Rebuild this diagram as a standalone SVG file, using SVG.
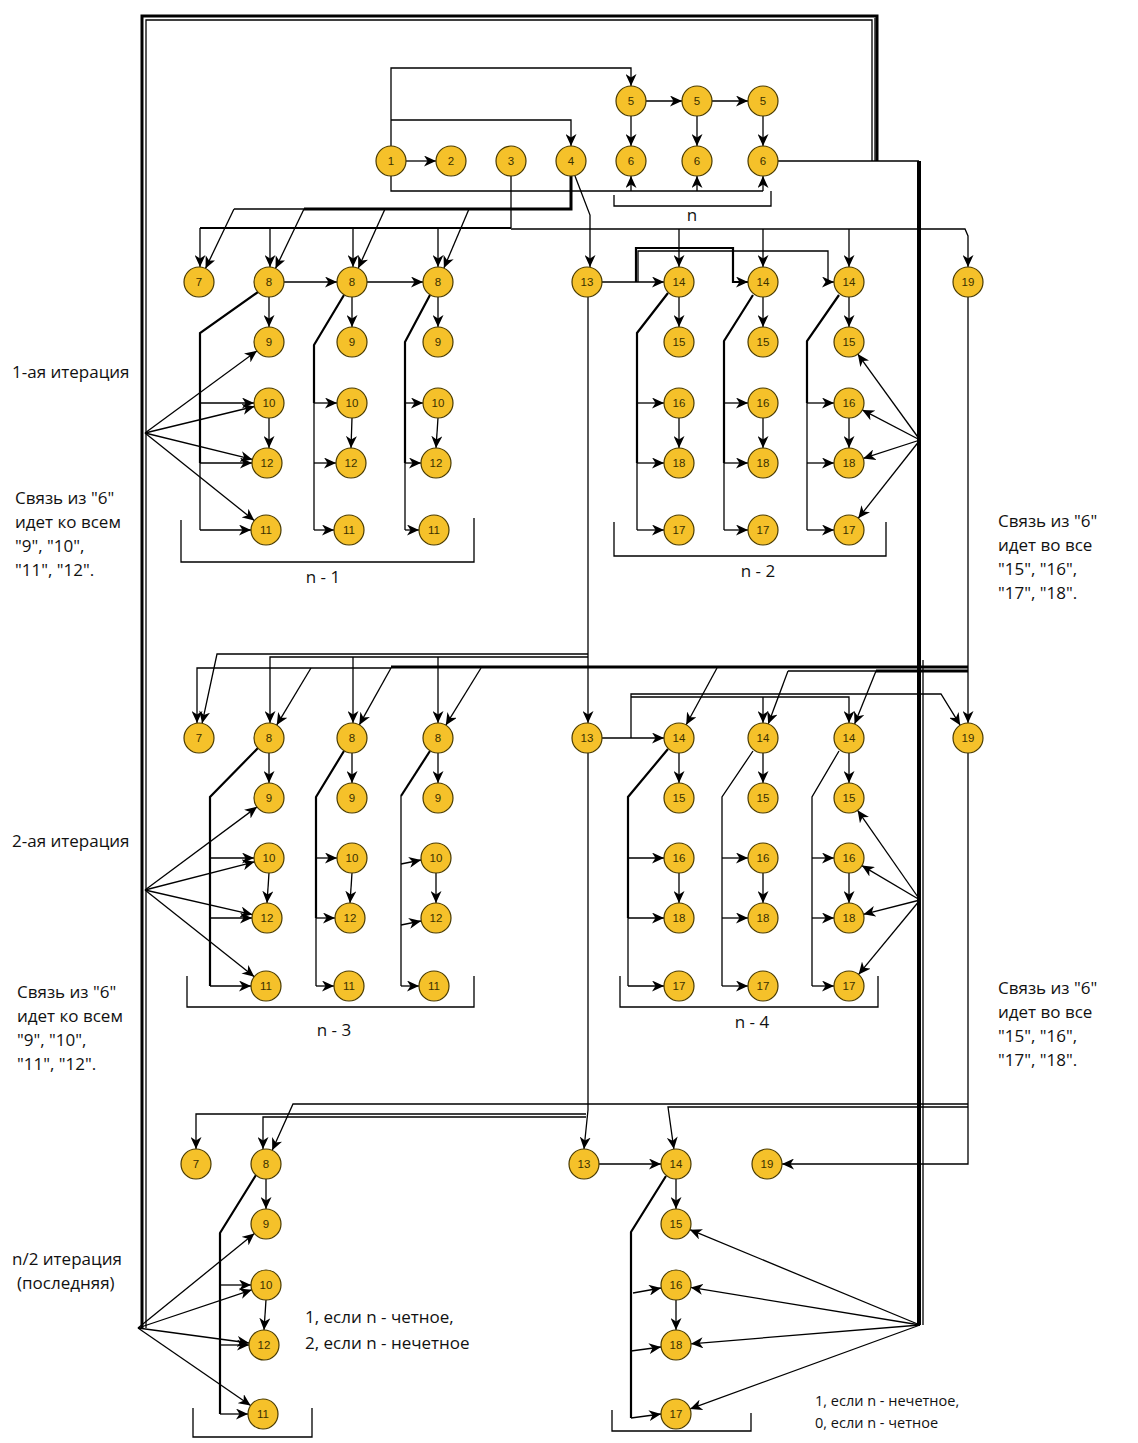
<svg xmlns="http://www.w3.org/2000/svg" width="1138" height="1443" viewBox="0 0 1138 1443">
<style>
.n circle{fill:#F5C12A;stroke:#4a3b00;stroke-width:1.2}
.n text{font-family:"Liberation Sans",Arial,sans-serif;font-size:11.5px;fill:#3a3000;text-anchor:middle;dominant-baseline:central}
.c{fill:none;stroke:#000;stroke-width:1.3}
.k{fill:none;stroke:#000;stroke-width:3}
.m{fill:none;stroke:#000;stroke-width:2.2}
.a{marker-end:url(#ar)}
.lb{font-family:"Open Sans","Noto Sans",sans-serif;font-size:17px;fill:#111}
.sm{font-family:"Open Sans","Noto Sans",sans-serif;font-size:14.5px;fill:#111}
</style>
<defs>
<marker id="ar" markerUnits="userSpaceOnUse" markerWidth="13" markerHeight="11" refX="12" refY="5.5" orient="auto">
<path d="M0,0 L12,5.5 L0,11 L3.5,5.5 z" fill="#000"/>
</marker>
</defs>
<rect width="1138" height="1443" fill="#fff"/>

<g id="frame">
<path class="k" d="M142,1328 V16 H877 V161"/>
<path class="c" d="M146,1328 V20 H872 V161"/>
<path class="c" d="M875,18 V161"/>
<path class="c" d="M778,161 H919"/>
<path d="M919,161 V1325" fill="none" stroke="#000" stroke-width="4"/>
<path class="c" d="M923,660 V1325"/>
</g>

<g id="connectors">
<path class="c a" d="M406,161 H436"/>
<path class="c a" d="M391,146 V68 H631 V86"/>
<path class="c a" d="M391,120 H571 V146"/>
<path class="c" d="M391,176 V191 H763"/>
<path class="c a" d="M631,191 V176"/>
<path class="c a" d="M697,191 V176"/>
<path class="c a" d="M763,191 V176"/>
<path class="c" d="M614,195 V206 H771 V191"/>
<path class="c a" d="M646,101 H682"/>
<path class="c a" d="M712,101 H748"/>
<path class="c a" d="M631,116 V146"/>
<path class="c a" d="M697,116 V146"/>
<path class="c a" d="M763,116 V146"/>
<path class="c" d="M511,176 V228"/>
<path class="m" d="M200,228 H511"/>
<path class="c a" d="M511,229 H965 L968,236 V267"/>
<path class="c a" d="M200,228 V267"/>
<path class="c a" d="M270,228 V267"/>
<path class="c a" d="M353,228 V267"/>
<path class="c a" d="M438,228 V267"/>
<path class="c a" d="M679,229 V267"/>
<path class="c a" d="M763,229 V267"/>
<path class="c a" d="M849,229 V267"/>
<path class="k" d="M571,176 V209 H304"/>
<path class="c" d="M304,209 H234"/>
<path class="c a" d="M234,209 L205.5,268.5"/>
<path class="c a" d="M304,209 L275.5,268.5"/>
<path class="c a" d="M385,209 L358.2,268.3"/>
<path class="c a" d="M469,209 L443.9,268.1"/>
<path class="c a" d="M575,176 L590,215 V267"/>
<path class="c a" d="M602,282 H664"/>
<path class="m a" d="M636,282 V248 H733 V282 H748"/>
<path class="c a" d="M638,282 V251 H828 V282 H834"/>
<path class="c a" d="M284,282 H337"/>
<path class="c a" d="M367,282 H423"/>
<path class="c a" d="M269,297 V327"/>
<path class="c a" d="M352,297 V327"/>
<path class="c a" d="M438,297 V327"/>
<path class="c a" d="M269,418 V448"/>
<path class="c a" d="M352,418 L351,448"/>
<path class="c a" d="M438,418 L436,448"/>
<path class="c a" d="M679,297 V327"/>
<path class="c a" d="M763,297 V327"/>
<path class="c a" d="M849,297 V327"/>
<path class="c a" d="M679,418 V448"/>
<path class="c a" d="M763,418 V448"/>
<path class="c a" d="M849,418 V448"/>
<path class="m" d="M258,292 L200,333 V463"/>
<path class="c" d="M200,463 V530"/>
<path class="c a" d="M200,403 H254"/>
<path class="c a" d="M200,463 H252"/>
<path class="c a" d="M200,530 H251"/>
<path class="m" d="M344,295 L314,345 V403"/>
<path class="c" d="M314,403 V530"/>
<path class="c a" d="M314,403 H337"/>
<path class="c a" d="M314,463 H336"/>
<path class="c a" d="M314,530 H334"/>
<path class="m" d="M430,295 L405,342 V463"/>
<path class="c" d="M405,463 V530"/>
<path class="c a" d="M405,403 H423"/>
<path class="c a" d="M405,463 H421"/>
<path class="c a" d="M405,530 H419"/>
<path class="m" d="M668,293 L637,333 V463"/>
<path class="c" d="M637,463 V530"/>
<path class="c a" d="M637,403 H664"/>
<path class="c a" d="M637,463 H664"/>
<path class="c a" d="M637,530 H664"/>
<path class="m" d="M753,295 L724,341 V463"/>
<path class="c" d="M724,463 V530"/>
<path class="c a" d="M724,403 H748"/>
<path class="c a" d="M724,463 H748"/>
<path class="c a" d="M724,530 H748"/>
<path class="m" d="M839,295 L807,341 V403"/>
<path class="c" d="M807,403 V530"/>
<path class="c a" d="M807,403 H834"/>
<path class="c a" d="M807,463 H834"/>
<path class="c a" d="M807,530 H834"/>
<path class="c a" d="M145,433 L256.9,350.9"/>
<path class="c a" d="M145,433 L254.4,406.5"/>
<path class="c a" d="M145,433 L252.4,459.4"/>
<path class="c a" d="M145,433 L254.3,520.6"/>
<path class="c a" d="M920,440 L857.8,354.1"/>
<path class="c a" d="M920,440 L862.3,409.9"/>
<path class="c a" d="M920,440 L863.3,458.4"/>
<path class="c a" d="M920,440 L858.3,518.2"/>
<path class="c a" d="M588,297 V723"/>
<path class="c a" d="M588,654 H217 L202.1,723.3"/>
<path class="c a" d="M588,657 H270 V723"/>
<path class="c a" d="M353,657 V723"/>
<path class="c a" d="M438,657 V723"/>
<path class="c a" d="M968,297 V723"/>
<path class="k" d="M968,667 H391"/>
<path class="c a" d="M391,668 H197 V723"/>
<path class="c a" d="M311,668 L276.7,725.1"/>
<path class="c a" d="M391,668 L359.3,724.9"/>
<path class="c a" d="M481,668 L445.8,725.2"/>
<path class="c a" d="M717,668 L686.2,724.8"/>
<path class="k" d="M968,671 H876"/>
<path class="c" d="M876,671 H788"/>
<path class="c a" d="M788,671 L768.2,724"/>
<path class="c a" d="M876,671 L854.6,724.1"/>
<path class="c a" d="M602,738 H664"/>
<path class="c a" d="M631,738 V694 H941 L960.2,725.2"/>
<path class="c a" d="M631,697 H849 V723"/>
<path class="c a" d="M763,697 V723"/>
<path class="c a" d="M269,753 V783"/>
<path class="c a" d="M352,753 V783"/>
<path class="c a" d="M438,753 V783"/>
<path class="c a" d="M269,873 L267,903"/>
<path class="c a" d="M352,873 L350,903"/>
<path class="c a" d="M436,873 V903"/>
<path class="m" d="M258,748 L210,797 V986"/>
<path class="c a" d="M210,858 H254"/>
<path class="c a" d="M210,918 H252"/>
<path class="c a" d="M210,986 H251"/>
<path class="m" d="M344,751 L316,797 V918"/>
<path class="c" d="M316,918 V986"/>
<path class="c a" d="M316,858 H337"/>
<path class="c a" d="M316,918 H335"/>
<path class="c a" d="M316,986 H334"/>
<path class="m" d="M430,751 L401,796"/>
<path class="c" d="M401,796 V986"/>
<path class="c a" d="M401,864 L421,860"/>
<path class="c a" d="M401,925 L421,921"/>
<path class="c a" d="M401,986 H419"/>
<path class="c a" d="M145,890 L257,806.9"/>
<path class="c a" d="M145,890 L254.5,861.8"/>
<path class="c a" d="M145,890 L252.4,914.6"/>
<path class="c a" d="M145,890 L254.3,976.7"/>
<path class="c a" d="M679,753 V783"/>
<path class="c a" d="M763,753 V783"/>
<path class="c a" d="M849,753 V783"/>
<path class="c a" d="M679,873 V903"/>
<path class="c a" d="M763,873 V903"/>
<path class="c a" d="M849,873 V903"/>
<path class="m" d="M668,749 L628,797 V918"/>
<path class="c" d="M628,918 V986"/>
<path class="c a" d="M628,858 H664"/>
<path class="c a" d="M628,918 H664"/>
<path class="c a" d="M628,986 H664"/>
<path class="c" d="M753,751 L722,797 V986"/>
<path class="c a" d="M722,858 H748"/>
<path class="c a" d="M722,918 H748"/>
<path class="c a" d="M722,986 H748"/>
<path class="c" d="M839,751 L812,797 V986"/>
<path class="c a" d="M812,858 H834"/>
<path class="c a" d="M812,918 H834"/>
<path class="c a" d="M812,986 H834"/>
<path class="c a" d="M920,900 L857.6,810.3"/>
<path class="c a" d="M920,900 L861.9,865.6"/>
<path class="c a" d="M920,900 L863.5,914.3"/>
<path class="c a" d="M920,900 L858.6,974.4"/>
<path class="c a" d="M588,753 V1110 L584,1149"/>
<path class="c a" d="M586,1114 H196 V1149"/>
<path class="c a" d="M586,1117 H263 V1149"/>
<path class="c a" d="M968,753 V1164 H782"/>
<path class="c a" d="M968,1104 H293 L272.2,1150.3"/>
<path class="c a" d="M968,1107 H668 L673.9,1149.1"/>
<path class="c a" d="M599,1164 H661"/>
<path class="c a" d="M266,1179 V1209"/>
<path class="c a" d="M266,1300 L264,1330"/>
<path class="m" d="M256,1175 L220,1233 V1414"/>
<path class="c a" d="M220,1285 H251"/>
<path class="c a" d="M220,1345 H249"/>
<path class="c a" d="M220,1414 H248"/>
<path class="c a" d="M138,1328 L254.4,1233.5"/>
<path class="c a" d="M138,1328 L251.8,1289.8"/>
<path class="c a" d="M138,1328 L249.1,1343"/>
<path class="c a" d="M138,1328 L250.6,1405.5"/>
<path class="c a" d="M676,1179 V1209"/>
<path class="c a" d="M676,1300 V1330"/>
<path class="m" d="M666,1176 L631,1232 V1418"/>
<path class="c a" d="M633,1293 L661,1288"/>
<path class="c a" d="M631,1351 L661,1347"/>
<path class="c a" d="M631,1418 L661,1414"/>
<path class="c a" d="M920,1325 L689.9,1229.7"/>
<path class="c a" d="M920,1325 L690.8,1287.4"/>
<path class="c a" d="M920,1325 L691,1343.8"/>
<path class="c a" d="M920,1325 L690.1,1408.9"/>
<path class="c" d="M181,520 V562 H474 V518"/>
<path class="c" d="M614,522 V556 H886 V522"/>
<path class="c" d="M187,976 V1007 H474 V976"/>
<path class="c" d="M620,976 V1007 H878 V976"/>
<path class="c" d="M193,1408 V1437 H312 V1408"/>
<path class="c" d="M612,1410 V1431 H751 V1413"/>
</g>

<g id="nodes">
<g id="n1" class="n"><circle cx="391" cy="161" r="15"/><text x="391" y="161">1</text></g>
<g id="n2" class="n"><circle cx="451" cy="161" r="15"/><text x="451" y="161">2</text></g>
<g id="n3" class="n"><circle cx="511" cy="161" r="15"/><text x="511" y="161">3</text></g>
<g id="n4" class="n"><circle cx="571" cy="161" r="15"/><text x="571" y="161">4</text></g>
<g id="n5a" class="n"><circle cx="631" cy="101" r="15"/><text x="631" y="101">5</text></g>
<g id="n5b" class="n"><circle cx="697" cy="101" r="15"/><text x="697" y="101">5</text></g>
<g id="n5c" class="n"><circle cx="763" cy="101" r="15"/><text x="763" y="101">5</text></g>
<g id="n6a" class="n"><circle cx="631" cy="161" r="15"/><text x="631" y="161">6</text></g>
<g id="n6b" class="n"><circle cx="697" cy="161" r="15"/><text x="697" y="161">6</text></g>
<g id="n6c" class="n"><circle cx="763" cy="161" r="15"/><text x="763" y="161">6</text></g>

<g id="i1-7" class="n"><circle cx="199" cy="282" r="15"/><text x="199" y="282">7</text></g>
<g id="i1-8a" class="n"><circle cx="269" cy="282" r="15"/><text x="269" y="282">8</text></g>
<g id="i1-8b" class="n"><circle cx="352" cy="282" r="15"/><text x="352" y="282">8</text></g>
<g id="i1-8c" class="n"><circle cx="438" cy="282" r="15"/><text x="438" y="282">8</text></g>
<g id="i1-9a" class="n"><circle cx="269" cy="342" r="15"/><text x="269" y="342">9</text></g>
<g id="i1-9b" class="n"><circle cx="352" cy="342" r="15"/><text x="352" y="342">9</text></g>
<g id="i1-9c" class="n"><circle cx="438" cy="342" r="15"/><text x="438" y="342">9</text></g>
<g id="i1-10a" class="n"><circle cx="269" cy="403" r="15"/><text x="269" y="403">10</text></g>
<g id="i1-10b" class="n"><circle cx="352" cy="403" r="15"/><text x="352" y="403">10</text></g>
<g id="i1-10c" class="n"><circle cx="438" cy="403" r="15"/><text x="438" y="403">10</text></g>
<g id="i1-12a" class="n"><circle cx="267" cy="463" r="15"/><text x="267" y="463">12</text></g>
<g id="i1-12b" class="n"><circle cx="351" cy="463" r="15"/><text x="351" y="463">12</text></g>
<g id="i1-12c" class="n"><circle cx="436" cy="463" r="15"/><text x="436" y="463">12</text></g>
<g id="i1-11a" class="n"><circle cx="266" cy="530" r="15"/><text x="266" y="530">11</text></g>
<g id="i1-11b" class="n"><circle cx="349" cy="530" r="15"/><text x="349" y="530">11</text></g>
<g id="i1-11c" class="n"><circle cx="434" cy="530" r="15"/><text x="434" y="530">11</text></g>
<g id="i1-13" class="n"><circle cx="587" cy="282" r="15"/><text x="587" y="282">13</text></g>
<g id="i1-14a" class="n"><circle cx="679" cy="282" r="15"/><text x="679" y="282">14</text></g>
<g id="i1-14b" class="n"><circle cx="763" cy="282" r="15"/><text x="763" y="282">14</text></g>
<g id="i1-14c" class="n"><circle cx="849" cy="282" r="15"/><text x="849" y="282">14</text></g>
<g id="i1-15a" class="n"><circle cx="679" cy="342" r="15"/><text x="679" y="342">15</text></g>
<g id="i1-15b" class="n"><circle cx="763" cy="342" r="15"/><text x="763" y="342">15</text></g>
<g id="i1-15c" class="n"><circle cx="849" cy="342" r="15"/><text x="849" y="342">15</text></g>
<g id="i1-16a" class="n"><circle cx="679" cy="403" r="15"/><text x="679" y="403">16</text></g>
<g id="i1-16b" class="n"><circle cx="763" cy="403" r="15"/><text x="763" y="403">16</text></g>
<g id="i1-16c" class="n"><circle cx="849" cy="403" r="15"/><text x="849" y="403">16</text></g>
<g id="i1-18a" class="n"><circle cx="679" cy="463" r="15"/><text x="679" y="463">18</text></g>
<g id="i1-18b" class="n"><circle cx="763" cy="463" r="15"/><text x="763" y="463">18</text></g>
<g id="i1-18c" class="n"><circle cx="849" cy="463" r="15"/><text x="849" y="463">18</text></g>
<g id="i1-17a" class="n"><circle cx="679" cy="530" r="15"/><text x="679" y="530">17</text></g>
<g id="i1-17b" class="n"><circle cx="763" cy="530" r="15"/><text x="763" y="530">17</text></g>
<g id="i1-17c" class="n"><circle cx="849" cy="530" r="15"/><text x="849" y="530">17</text></g>
<g id="i1-19" class="n"><circle cx="968" cy="282" r="15"/><text x="968" y="282">19</text></g>

<g id="i2-7" class="n"><circle cx="199" cy="738" r="15"/><text x="199" y="738">7</text></g>
<g id="i2-8a" class="n"><circle cx="269" cy="738" r="15"/><text x="269" y="738">8</text></g>
<g id="i2-8b" class="n"><circle cx="352" cy="738" r="15"/><text x="352" y="738">8</text></g>
<g id="i2-8c" class="n"><circle cx="438" cy="738" r="15"/><text x="438" y="738">8</text></g>
<g id="i2-9a" class="n"><circle cx="269" cy="798" r="15"/><text x="269" y="798">9</text></g>
<g id="i2-9b" class="n"><circle cx="352" cy="798" r="15"/><text x="352" y="798">9</text></g>
<g id="i2-9c" class="n"><circle cx="438" cy="798" r="15"/><text x="438" y="798">9</text></g>
<g id="i2-10a" class="n"><circle cx="269" cy="858" r="15"/><text x="269" y="858">10</text></g>
<g id="i2-10b" class="n"><circle cx="352" cy="858" r="15"/><text x="352" y="858">10</text></g>
<g id="i2-10c" class="n"><circle cx="436" cy="858" r="15"/><text x="436" y="858">10</text></g>
<g id="i2-12a" class="n"><circle cx="267" cy="918" r="15"/><text x="267" y="918">12</text></g>
<g id="i2-12b" class="n"><circle cx="350" cy="918" r="15"/><text x="350" y="918">12</text></g>
<g id="i2-12c" class="n"><circle cx="436" cy="918" r="15"/><text x="436" y="918">12</text></g>
<g id="i2-11a" class="n"><circle cx="266" cy="986" r="15"/><text x="266" y="986">11</text></g>
<g id="i2-11b" class="n"><circle cx="349" cy="986" r="15"/><text x="349" y="986">11</text></g>
<g id="i2-11c" class="n"><circle cx="434" cy="986" r="15"/><text x="434" y="986">11</text></g>
<g id="i2-13" class="n"><circle cx="587" cy="738" r="15"/><text x="587" y="738">13</text></g>
<g id="i2-14a" class="n"><circle cx="679" cy="738" r="15"/><text x="679" y="738">14</text></g>
<g id="i2-14b" class="n"><circle cx="763" cy="738" r="15"/><text x="763" y="738">14</text></g>
<g id="i2-14c" class="n"><circle cx="849" cy="738" r="15"/><text x="849" y="738">14</text></g>
<g id="i2-15a" class="n"><circle cx="679" cy="798" r="15"/><text x="679" y="798">15</text></g>
<g id="i2-15b" class="n"><circle cx="763" cy="798" r="15"/><text x="763" y="798">15</text></g>
<g id="i2-15c" class="n"><circle cx="849" cy="798" r="15"/><text x="849" y="798">15</text></g>
<g id="i2-16a" class="n"><circle cx="679" cy="858" r="15"/><text x="679" y="858">16</text></g>
<g id="i2-16b" class="n"><circle cx="763" cy="858" r="15"/><text x="763" y="858">16</text></g>
<g id="i2-16c" class="n"><circle cx="849" cy="858" r="15"/><text x="849" y="858">16</text></g>
<g id="i2-18a" class="n"><circle cx="679" cy="918" r="15"/><text x="679" y="918">18</text></g>
<g id="i2-18b" class="n"><circle cx="763" cy="918" r="15"/><text x="763" y="918">18</text></g>
<g id="i2-18c" class="n"><circle cx="849" cy="918" r="15"/><text x="849" y="918">18</text></g>
<g id="i2-17a" class="n"><circle cx="679" cy="986" r="15"/><text x="679" y="986">17</text></g>
<g id="i2-17b" class="n"><circle cx="763" cy="986" r="15"/><text x="763" y="986">17</text></g>
<g id="i2-17c" class="n"><circle cx="849" cy="986" r="15"/><text x="849" y="986">17</text></g>
<g id="i2-19" class="n"><circle cx="968" cy="738" r="15"/><text x="968" y="738">19</text></g>

<g id="i3-7" class="n"><circle cx="196" cy="1164" r="15"/><text x="196" y="1164">7</text></g>
<g id="i3-8" class="n"><circle cx="266" cy="1164" r="15"/><text x="266" y="1164">8</text></g>
<g id="i3-9" class="n"><circle cx="266" cy="1224" r="15"/><text x="266" y="1224">9</text></g>
<g id="i3-10" class="n"><circle cx="266" cy="1285" r="15"/><text x="266" y="1285">10</text></g>
<g id="i3-12" class="n"><circle cx="264" cy="1345" r="15"/><text x="264" y="1345">12</text></g>
<g id="i3-11" class="n"><circle cx="263" cy="1414" r="15"/><text x="263" y="1414">11</text></g>
<g id="i3-13" class="n"><circle cx="584" cy="1164" r="15"/><text x="584" y="1164">13</text></g>
<g id="i3-14" class="n"><circle cx="676" cy="1164" r="15"/><text x="676" y="1164">14</text></g>
<g id="i3-19" class="n"><circle cx="767" cy="1164" r="15"/><text x="767" y="1164">19</text></g>
<g id="i3-15" class="n"><circle cx="676" cy="1224" r="15"/><text x="676" y="1224">15</text></g>
<g id="i3-16" class="n"><circle cx="676" cy="1285" r="15"/><text x="676" y="1285">16</text></g>
<g id="i3-18" class="n"><circle cx="676" cy="1345" r="15"/><text x="676" y="1345">18</text></g>
<g id="i3-17" class="n"><circle cx="676" cy="1414" r="15"/><text x="676" y="1414">17</text></g>
</g>

<g id="labels">
<text class="lb" x="692" y="221" text-anchor="middle">n</text>
<text class="lb" x="323" y="583" text-anchor="middle">n - 1</text>
<text class="lb" x="758" y="577" text-anchor="middle">n - 2</text>
<text class="lb" x="334" y="1036" text-anchor="middle">n - 3</text>
<text class="lb" x="752" y="1028" text-anchor="middle">n - 4</text>
<text class="lb" x="12" y="378">1-ая итерация</text>
<text class="lb" x="15" y="504">Связь из "6"</text>
<text class="lb" x="15" y="528">идет ко всем</text>
<text class="lb" x="15" y="552">"9", "10",</text>
<text class="lb" x="15" y="576">"11", "12".</text>
<text class="lb" x="998" y="527">Связь из "6"</text>
<text class="lb" x="998" y="551">идет во все</text>
<text class="lb" x="998" y="575">"15", "16",</text>
<text class="lb" x="998" y="599">"17", "18".</text>
<text class="lb" x="12" y="847">2-ая итерация</text>
<text class="lb" x="17" y="998">Связь из "6"</text>
<text class="lb" x="17" y="1022">идет ко всем</text>
<text class="lb" x="17" y="1046">"9", "10",</text>
<text class="lb" x="17" y="1070">"11", "12".</text>
<text class="lb" x="998" y="994">Связь из "6"</text>
<text class="lb" x="998" y="1018">идет во все</text>
<text class="lb" x="998" y="1042">"15", "16",</text>
<text class="lb" x="998" y="1066">"17", "18".</text>
<text class="lb" x="12" y="1265">n/2 итерация</text>
<text class="lb" x="17" y="1289">(последняя)</text>
<text class="lb" x="305" y="1323">1, если n - четное,</text>
<text class="lb" x="305" y="1349">2, если n - нечетное</text>
<text class="sm" x="815" y="1406">1, если n - нечетное,</text>
<text class="sm" x="815" y="1428">0, если n - четное</text>
</g>
</svg>
